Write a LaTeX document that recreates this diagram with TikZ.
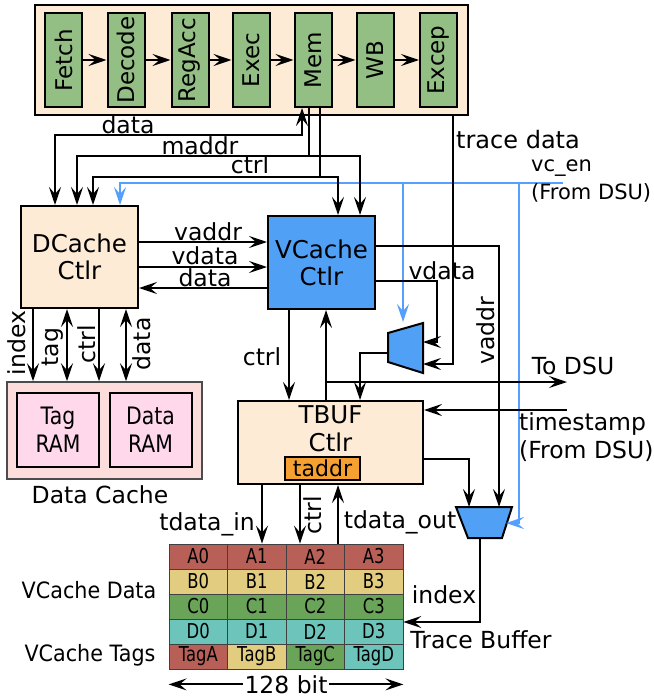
\documentclass[tikz,border=0pt]{standalone}
\usepackage{fontspec}
\setmainfont{DejaVu Sans}
\newfontfamily\condfont[FakeStretch=0.8]{DejaVu Sans}
\newfontfamily\narrowfont[FakeStretch=0.85]{DejaVu Sans}
\newfontfamily\semifont[FakeStretch=0.92]{DejaVu Sans}
\usepackage{xcolor}
\usetikzlibrary{arrows.meta}
\definecolor{peach}{HTML}{FDEBD6}
\definecolor{stagegreen}{HTML}{93BF85}
\definecolor{vcfill}{HTML}{50A0F5}
\definecolor{vcblue}{HTML}{55A0FF}
\definecolor{taddrorange}{HTML}{F5A030}
\definecolor{cachepink}{HTML}{FDDCDC}
\definecolor{rampink}{HTML}{FFD8EC}
\definecolor{rowred}{HTML}{B86058}
\definecolor{rowyellow}{HTML}{E2CC80}
\definecolor{rowgreen}{HTML}{6AA458}
\definecolor{rowteal}{HTML}{6CC4BA}
\tikzstyle{block} = [
    rectangle, draw=black, line width=2pt, fill=peach, align=center,
    inner sep=0pt, font=\fontsize{24.5}{27}\selectfont
]
\tikzstyle{stage} = [
    rectangle, draw=black, line width=2pt, fill=stagegreen, inner sep=0pt,
    minimum width=37pt, minimum height=94pt, font=\fontsize{23}{26}\selectfont
]
\tikzstyle{ram} = [
    rectangle, draw=black, line width=2pt, fill=rampink, align=center, inner sep=0pt,
    minimum width=82pt, minimum height=74pt, font=\narrowfont\fontsize{24}{28}\selectfont
]
\tikzstyle{cell} = [
    rectangle, draw=black!75, line width=0.8pt, inner sep=0pt,
    minimum width=58.5pt, minimum height=25pt, font=\condfont\fontsize{20.5}{22}\selectfont
]
\tikzstyle{mux} = [draw=black, line width=2pt, fill=vcfill]
\tikzstyle{lbl} = [inner sep=0pt, align=center, font=\fontsize{23.5}{28}\selectfont]
\tikzstyle{arrow} = [line width=2pt, ->, >={Stealth[length=18pt,width=12pt,inset=7pt]}]
\tikzstyle{dblarrow} = [arrow, <->]
\tikzstyle{vcarrow} = [arrow, line width=1.8pt, color=vcblue]
\begin{document}
\begin{tikzpicture}[x=1pt, y=-1pt]
    \useasboundingbox (0,0) rectangle (653,698);

    % pipeline
    \node (pipe) [block, minimum width=433pt, minimum height=110pt] at (251.5,60) {};
    \node (fetch)  [stage] at (63.5,60)  {\rotatebox{90}{Fetch}};
    \node (decode) [stage] at (126,60)   {\rotatebox{90}{Decode}};
    \node (regacc) [stage] at (190,60)   {\rotatebox{90}{RegAcc}};
    \node (exec)   [stage] at (251,60)   {\rotatebox{90}{Exec}};
    \node (mem)    [stage] at (313,60)   {\rotatebox{90}{Mem}};
    \node (wb)     [stage] at (375,60)   {\rotatebox{90}{WB}};
    \node (excep)  [stage] at (438.5,60) {\rotatebox{90}{Excep}};
    \draw [arrow] (fetch) -- (decode);
    \draw [arrow] (decode) -- (regacc);
    \draw [arrow] (regacc) -- (exec);
    \draw [arrow] (exec) -- (mem);
    \draw [arrow] (mem) -- (wb);
    \draw [arrow] (wb) -- (excep);

    % controllers and caches
    \node (dcache) [block, minimum width=117pt, minimum height=102pt] at (79.5,257) {DCache\\Ctlr};
    \node (vcache) [block, fill=vcfill, minimum width=107pt, minimum height=93pt] at (321.5,262.5) {VCache\\Ctlr};
    \node (dcachebox) [rectangle, draw=black!70, line width=1.5pt, fill=cachepink,
                       minimum width=195pt, minimum height=97pt] at (104.5,430.5) {};
    \node (tagram)  [ram] at (58,430)    {Tag\\RAM};
    \node (dataram) [ram] at (150.5,430) {Data\\RAM};
    \node (tbuf) [block, minimum width=185pt, minimum height=83pt] at (330.5,442.5) {};
    \node (tbuftext) [lbl, font=\fontsize{24.5}{28}\selectfont] at (330.5,429) {TBUF\\Ctlr};
    \node (taddr) [rectangle, draw=black, line width=1.2pt, fill=taddrorange, inner sep=0pt,
                   minimum width=75pt, minimum height=23pt, font=\fontsize{22}{24}\selectfont]
                   at (322.5,468.5) {taddr};

    % muxes
    \filldraw [mux] (388,333) -- (423,323) -- (423,373) -- (388,362) -- cycle;
    \filldraw [mux] (456,507) -- (512,507) -- (502,538) -- (468,538) -- cycle;
    \coordinate (m1a) at (423,342);
    \coordinate (m1b) at (423,364);
    \coordinate (m1sel) at (403,322);
    \coordinate (m1out) at (388,353);
    \coordinate (m2a) at (469,507);
    \coordinate (m2b) at (499,507);
    \coordinate (m2sel) at (506,523);
    \coordinate (m2out) at (480,538);

    % trace buffer table
    \node (a0) [cell, fill=rowred] at (198.25,556.5) {A0};
    \node (a1) [cell, fill=rowred] at (256.75,556.5) {A1};
    \node (a2) [cell, fill=rowred] at (315.25,556.5) {A2};
    \node (a3) [cell, fill=rowred] at (373.75,556.5) {A3};
    \node (b0) [cell, fill=rowyellow] at (198.25,581.5) {B0};
    \node (b1) [cell, fill=rowyellow] at (256.75,581.5) {B1};
    \node (b2) [cell, fill=rowyellow] at (315.25,581.5) {B2};
    \node (b3) [cell, fill=rowyellow] at (373.75,581.5) {B3};
    \node (c0) [cell, fill=rowgreen] at (198.25,606.5) {C0};
    \node (c1) [cell, fill=rowgreen] at (256.75,606.5) {C1};
    \node (c2) [cell, fill=rowgreen] at (315.25,606.5) {C2};
    \node (c3) [cell, fill=rowgreen] at (373.75,606.5) {C3};
    \node (d0) [cell, fill=rowteal] at (198.25,631.5) {D0};
    \node (d1) [cell, fill=rowteal] at (256.75,631.5) {D1};
    \node (d2) [cell, fill=rowteal] at (315.25,631.5) {D2};
    \node (d3) [cell, fill=rowteal] at (373.75,631.5) {D3};
    \node (taga) [cell, fill=rowred]    at (198.25,656.5) {TagA};
    \node (tagb) [cell, fill=rowyellow] at (256.75,656.5) {TagB};
    \node (tagc) [cell, fill=rowgreen]  at (315.25,656.5) {TagC};
    \node (tagd) [cell, fill=rowteal]   at (373.75,656.5) {TagD};

    % vc_en from DSU
    \coordinate (vcen) at (563,183);
    \draw [vcarrow] (vcen) -| ([xshift=40.5pt]dcache.north);
    \draw [vcarrow] (vcen -| m1sel) -- (m1sel);
    \draw [vcarrow] (vcen -| 519,0) |- (m2sel);

    % memory stage <-> controllers
    \draw [dblarrow] ([xshift=-24.5pt]dcache.north) |- (302,135) -- ([xshift=-11pt]mem.south);
    \draw [arrow] ([xshift=-4pt]mem.south) |- (77,156) -- ([xshift=-2.5pt]dcache.north);
    \draw [arrow] ([xshift=-4pt]mem.south) |- (360,156) -- ([xshift=38.5pt]vcache.north);
    \draw [arrow] ([xshift=7pt]mem.south) |- (93,177) -- ([xshift=13.5pt]dcache.north);
    \draw [arrow] ([xshift=7pt]mem.south) |- (338,177) -- ([xshift=16.5pt]vcache.north);
    \draw [arrow] ([xshift=201.5pt]pipe.south) |- (m1b);

    % dcache <-> vcache
    \draw [arrow] ([yshift=15pt]dcache.east) -- ([yshift=15pt]dcache.east -| vcache.west);
    \draw [arrow] ([yshift=-10pt]dcache.east) -- ([yshift=-10pt]dcache.east -| vcache.west);
    \draw [arrow] ([yshift=-31pt]dcache.east -| vcache.west) -- ([yshift=-31pt]dcache.east);

    % dcache <-> data cache
    \draw [arrow] ([xshift=-46.5pt]dcache.south) -- ([xshift=-71.5pt]dcachebox.north);
    \draw [dblarrow] ([xshift=-12.5pt]dcache.south) -- ([xshift=-37.5pt]dcachebox.north);
    \draw [arrow] ([xshift=19.5pt]dcache.south) -- ([xshift=-5.5pt]dcachebox.north);
    \draw [dblarrow] ([xshift=46.5pt]dcache.south) -- ([xshift=21.5pt]dcachebox.north);

    % vcache <-> muxes and tbuf
    \draw [arrow] ([yshift=-18.5pt]vcache.east) -| (437,342) -- (m1a);
    \draw [arrow] ([yshift=16.5pt]vcache.east) -| (m2b);
    \draw [arrow] (m1out) -| ([xshift=29.5pt]tbuf.north);
    \draw [arrow] ([xshift=-32.5pt]vcache.south) -- ([xshift=-41.5pt]tbuf.north);
    \coordinate (tbufup) at ([xshift=-4.5pt]tbuf.north);
    \draw [arrow] (tbufup) -- ([xshift=4.5pt]vcache.south);
    \coordinate (todsu) at (567,382);
    \draw [arrow] (tbufup |- todsu) -- (todsu);
    \coordinate (tsin) at (567,410);
    \draw [arrow] (tsin) -- (tsin -| tbuf.east);
    \draw [arrow] ([yshift=-16.5pt]tbuf.east) -| (m2a);
    \draw [arrow] (m2out) |- ([yshift=9.5pt]d3.east);

    % tbuf <-> table
    \draw [arrow] ([xshift=-68.5pt]tbuf.south) -- ([xshift=5.25pt]a1.north);
    \draw [arrow] ([xshift=-30.5pt]tbuf.south) -- ([xshift=-15.25pt]a2.north);
    \draw [arrow] ([xshift=22.75pt]a2.north) -- ([xshift=7.5pt]tbuf.south);
    \draw [dblarrow] ([yshift=-15pt]taga.south west) --
        node (lwidth) [lbl, fill=white, inner xsep=2pt] {128 bit} ([yshift=-15pt]tagd.south east);

    % labels
    \node (ldata)   [lbl] at (128,125) {data};
    \node (lmaddr)  [lbl] at (200,146) {maddr};
    \node (lctrl)   [lbl] at (250,165) {ctrl};
    \node (ltrace)  [lbl, anchor=west, font=\fontsize{24}{28}\selectfont] at (456,140) {trace data};
    \node (lvcen)   [lbl, anchor=west, align=left, font=\fontsize{21}{28}\selectfont] at (531,181) {vc\_en\\(From DSU)};
    \node (lvaddr)  [lbl] at (208,232) {vaddr};
    \node (lvdata)  [lbl] at (205,256) {vdata};
    \node (ldata2)  [lbl] at (205,278) {data};
    \node (lvdata2) [lbl] at (442,271) {vdata};
    \node (lvaddr2) [lbl, rotate=90] at (486,331) {vaddr};
    \node (lindex)  [lbl, rotate=90] at (17,343) {index};
    \node (ltag)    [lbl, rotate=90] at (53,347) {tag};
    \node (lctrl3)  [lbl, rotate=90] at (87,344) {ctrl};
    \node (ldata3)  [lbl, rotate=90] at (142,344) {data};
    \node (ldcache) [lbl] at (100,495) {Data Cache};
    \node (lctrl2)  [lbl] at (262,357) {ctrl};
    \node (ltodsu)  [lbl] at (573,366) {To DSU};
    \node (ltime)   [lbl, anchor=west, align=left] at (519,437) {timestamp\\(From DSU)};
    \node (ltdin)   [lbl] at (207,524) {tdata\_in};
    \node (lctrl4)  [lbl, rotate=90] at (313,515) {ctrl};
    \node (ltdout)  [lbl] at (400,522) {tdata\_out};
    \node (lindex2) [lbl] at (444,595) {index};
    \node (ltbufl)  [lbl] at (481,640) {Trace Buffer};
    \node (lvcdata) [lbl, font=\semifont\fontsize{22.5}{26}\selectfont] at (89,590) {VCache Data};
    \node (lvctags) [lbl, font=\semifont\fontsize{22.5}{26}\selectfont] at (90,655) {VCache Tags};
\end{tikzpicture}
\end{document}
